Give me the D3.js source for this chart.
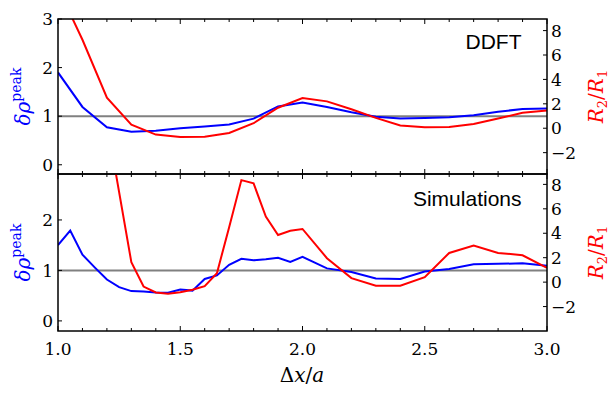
<!DOCTYPE html>
<html><head><meta charset="utf-8">
<script src="https://cdn.jsdelivr.net/npm/d3@7"></script>
<style>body{margin:0;background:#fff}</style>
</head><body>
<svg id="c" width="610" height="393"></svg>
<script>
// ---- data ----
const ddftX = [1.0,1.1,1.2,1.3,1.4,1.5,1.6,1.7,1.8,1.9,2.0,2.1,2.2,2.3,2.4,2.5,2.6,2.7,2.8,2.9,3.0];
const ddftRho = [1.90,1.19,0.77,0.68,0.70,0.75,0.79,0.83,0.95,1.20,1.28,1.19,1.08,0.99,0.95,0.96,0.98,1.02,1.09,1.15,1.16];
const ddftRatio = [11.5,7.25,2.5,0.3,-0.52,-0.72,-0.69,-0.39,0.41,1.68,2.48,2.2,1.55,0.85,0.22,0.08,0.1,0.35,0.8,1.26,1.46];

const simRhoX = [1.0,1.05,1.1,1.15,1.2,1.25,1.3,1.35,1.4,1.45,1.5,1.55,1.6,1.65,1.7,1.75,1.8,1.85,1.9,1.95,2.0,2.1,2.2,2.3,2.4,2.5,2.6,2.7,2.8,2.9,3.0];
const simRho = [1.50,1.79,1.31,1.06,0.82,0.67,0.59,0.58,0.565,0.56,0.62,0.60,0.83,0.90,1.11,1.23,1.20,1.22,1.25,1.17,1.27,1.04,0.97,0.84,0.83,0.98,1.03,1.12,1.13,1.14,1.09];
const simRatioX = [1.2,1.3,1.35,1.4,1.45,1.5,1.55,1.6,1.65,1.7,1.75,1.8,1.85,1.9,1.95,2.0,2.1,2.2,2.3,2.4,2.5,2.6,2.7,2.8,2.9,3.0];
const simRatio = [13.1,1.63,-0.36,-0.85,-0.95,-0.82,-0.63,-0.33,0.73,4.5,8.35,8.08,5.36,3.86,4.2,4.35,1.96,0.33,-0.3,-0.3,0.41,2.39,2.99,2.39,2.2,1.17];

const xTicks = [1.0,1.1,1.2,1.3,1.4,1.5,1.6,1.7,1.8,1.9,2.0,2.1,2.2,2.3,2.4,2.5,2.6,2.7,2.8,2.9,3.0];
const xLabels = [1.0,1.5,2.0,2.5,3.0];
const leftTicksTop = [0,1,2,3];
const leftTicksBottom = [0,1,2];
const rightTicks = [-2,0,2,4,6,8];
const panelNames = ["DDFT","Simulations"];

// ---- layout ----
const svg = d3.select("#c");
const L = 58, R = 547;
const x = d3.scaleLinear().domain([1,3]).range([L,R]);
const panels = [
  {y0:19, y1:174, left:[-0.19,3], right:[-3.75,8.95], lt:leftTicksTop, xs:ddftX, rho:ddftRho, rx:ddftX, ratio:ddftRatio, name:panelNames[0], nameY:49.3},
  {y0:174, y1:331, left:[-0.2,2.91], right:[-4.0,8.85], lt:leftTicksBottom, xs:simRhoX, rho:simRho, rx:simRatioX, ratio:simRatio, name:panelNames[1], nameY:205.7}
];
const serif = "DejaVu Serif";
const blue = "#0000ff", red = "#ff0000", grey = "#808080";

panels.forEach((p,i)=>{
  const yl = d3.scaleLinear().domain(p.left).range([p.y1,p.y0]);
  const yr = d3.scaleLinear().domain(p.right).range([p.y1,p.y0]);
  const cid = "clip"+i;
  svg.append("clipPath").attr("id",cid).append("rect")
    .attr("x",L).attr("y",p.y0).attr("width",R-L).attr("height",p.y1-p.y0);
  const g = svg.append("g");
  // reference line
  g.append("line").attr("x1",L).attr("x2",R).attr("y1",yl(1)).attr("y2",yl(1))
    .attr("stroke",grey).attr("stroke-width",2);
  const lineL = d3.line().x((d,j)=>x(p.xs[j])).y(d=>yl(d));
  const lineR = d3.line().x((d,j)=>x(p.rx[j])).y(d=>yr(d));
  g.append("path").attr("d",lineL(p.rho)).attr("fill","none").attr("stroke",blue)
    .attr("stroke-width",2).attr("clip-path",`url(#${cid})`);
  g.append("path").attr("d",lineR(p.ratio)).attr("fill","none").attr("stroke",red)
    .attr("stroke-width",2).attr("clip-path",`url(#${cid})`);
  // frame
  g.append("rect").attr("x",L).attr("y",p.y0).attr("width",R-L).attr("height",p.y1-p.y0)
    .attr("fill","none").attr("stroke","#000").attr("stroke-width",1.5);
  // x ticks (top and bottom, inward)
  xTicks.forEach(t=>{
    const major = Math.abs(t*2 - Math.round(t*2))<1e-6;
    const len = major?5:3;
    g.append("line").attr("x1",x(t)).attr("x2",x(t)).attr("y1",p.y0).attr("y2",p.y0+len).attr("stroke","#000").attr("stroke-width",1);
    g.append("line").attr("x1",x(t)).attr("x2",x(t)).attr("y1",p.y1).attr("y2",p.y1-len).attr("stroke","#000").attr("stroke-width",1);
  });
  // left ticks
  p.lt.forEach(t=>{
    g.append("line").attr("x1",L).attr("x2",L+4).attr("y1",yl(t)).attr("y2",yl(t)).attr("stroke","#000");
    g.append("text").attr("x",53).attr("y",yl(t)).attr("dy","0.36em").attr("text-anchor","end")
      .attr("font-family",serif).attr("font-size",17).text(t);
  });
  // right ticks
  rightTicks.forEach(t=>{
    g.append("line").attr("x1",R-4).attr("x2",R).attr("y1",yr(t)).attr("y2",yr(t)).attr("stroke","#000");
    g.append("text").attr("x",551).attr("y",yr(t)).attr("dy","0.36em").attr("text-anchor","start")
      .attr("font-family",serif).attr("font-size",17).text(t<0?"\u2212"+(-t):t);
  });
  // panel label
  g.append("text").attr("x",521.5).attr("y",p.nameY).attr("text-anchor","end")
    .attr("font-family","Liberation Sans").attr("font-size",21).text(p.name);
  // left title
  const cy = (p.y0+p.y1)/2;
  const lt = g.append("text").attr("transform",`translate(30,${cy}) rotate(-90)`)
    .attr("text-anchor","middle").attr("font-family",serif).attr("fill",blue).attr("font-size",20);
  lt.append("tspan").attr("font-style","italic").text("δρ");
  lt.append("tspan").attr("font-size",14).attr("dy",-9).text("peak");
  // right title
  const rt = g.append("text").attr("transform",`translate(603,${cy}) rotate(-90)`)
    .attr("text-anchor","middle").attr("font-family",serif).attr("fill",red).attr("font-size",20);
  rt.append("tspan").attr("font-style","italic").text("R");
  rt.append("tspan").attr("font-size",13).attr("dy",4).text("2");
  rt.append("tspan").attr("dy",-4).text("/");
  rt.append("tspan").attr("font-style","italic").text("R");
  rt.append("tspan").attr("font-size",13).attr("dy",4).text("1");
});

// x labels
xLabels.forEach(t=>{
  svg.append("text").attr("x",x(t)).attr("y",355).attr("text-anchor","middle")
    .attr("font-family",serif).attr("font-size",17).text(t.toFixed(1));
});
const xt = svg.append("text").attr("x",302).attr("y",382).attr("text-anchor","middle")
  .attr("font-family",serif).attr("font-size",20);
xt.append("tspan").text("Δ");
xt.append("tspan").attr("font-style","italic").text("x");
xt.append("tspan").text("/");
xt.append("tspan").attr("font-style","italic").text("a");
</script>
</body></html>
